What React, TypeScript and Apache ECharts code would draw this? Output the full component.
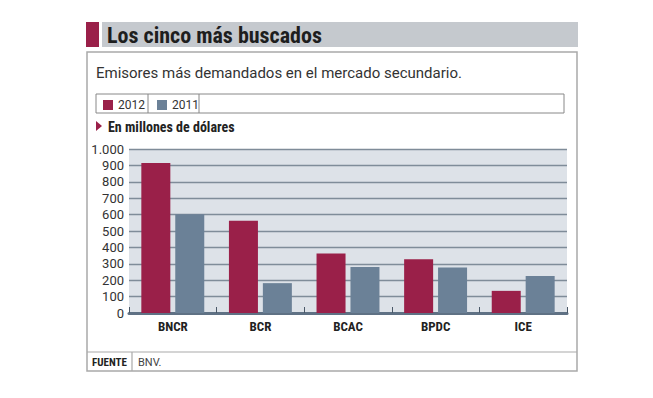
import React, { useEffect, useRef } from "react";
import * as echarts from "echarts";

const categories = ["BNCR", "BCR", "BCAC", "BPDC", "ICE"];
const values2012 = [914, 563, 363, 327, 135];
const values2011 = [602, 182, 280, 278, 226];
const seriesNames = ["2012", "2011"];
const yTicks = [0, 100, 200, 300, 400, 500, 600, 700, 800, 900, 1000];

const RED = "#9a2049";
const BLUE = "#6b8197";
const FONT = "Roboto, 'Noto Sans', sans-serif";
const COND = "'Roboto Condensed', Roboto, sans-serif";

const legendBase = {
  top: 99,
  padding: 0,
  itemWidth: 10,
  itemHeight: 10,
  icon: "rect",
  textStyle: { fontFamily: FONT, fontSize: 12, color: "#333" },
};

export default function App() {
  const ref = useRef<HTMLDivElement>(null);
  useEffect(() => {
    if (!ref.current) return;
    const chart = echarts.init(ref.current, null, { renderer: "svg" });
    chart.setOption({
      animation: false,
      backgroundColor: "#ffffff",
      grid: {
        left: 129,
        right: 86,
        top: 149,
        bottom: 85,
        show: true,
        backgroundColor: "#dde2e8",
        borderWidth: 0,
      },
      legend: [
        { ...legendBase, left: 103, data: [seriesNames[0]] },
        { ...legendBase, left: 157, data: [seriesNames[1]] },
      ],
      xAxis: {
        type: "category",
        data: categories,
        axisLine: { show: true, lineStyle: { color: "#5f7184", width: 3 } },
        axisTick: { show: true, inside: true, length: 6, lineStyle: { color: "#4a5868", width: 1 } },
        axisLabel: {
          fontFamily: COND,
          fontWeight: "bold",
          fontSize: 13,
          color: "#222",
          margin: 7,
        },
      },
      yAxis: {
        type: "value",
        min: yTicks[0],
        max: yTicks[yTicks.length - 1],
        interval: 100,
        axisLine: { show: false },
        axisTick: { show: false },
        splitLine: { show: true, lineStyle: { color: "#7f8c99", width: 1.3 } },
        axisLabel: {
          fontFamily: FONT,
          fontSize: 13,
          color: "#333",
          margin: 5,
          formatter: (v: number) => (v >= 1000 ? v.toLocaleString("de-DE") : String(v)),
        },
      },
      series: [
        {
          name: seriesNames[0],
          type: "bar",
          data: values2012,
          barWidth: 29,
          barGap: "17%",
          itemStyle: { color: RED },
        },
        {
          name: seriesNames[1],
          type: "bar",
          data: values2011,
          barWidth: 29,
          itemStyle: { color: BLUE },
        },
      ],
      graphic: [
        // Title bar
        { type: "rect", shape: { x: 86, y: 22, width: 13, height: 25 }, style: { fill: RED } },
        { type: "rect", shape: { x: 102, y: 22, width: 476, height: 25 }, style: { fill: "#c5c9ce" } },
        {
          type: "text",
          x: 107,
          y: 35,
          style: {
            text: "Los cinco más buscados",
            font: `bold 22px ${COND}`,
            fill: "#1e1e1e",
            textVerticalAlign: "middle",
          },
        },
        // outer box
        {
          type: "rect",
          shape: { x: 87, y: 52, width: 490, height: 319 },
          style: { fill: "none", stroke: "#a9a9a9", lineWidth: 1.5 },
          z: -1,
        },
        {
          type: "text",
          x: 96,
          y: 73,
          style: {
            text: "Emisores más demandados en el mercado secundario.",
            font: `15px ${FONT}`,
            fill: "#333",
            textVerticalAlign: "middle",
          },
        },
        // legend box
        {
          type: "rect",
          shape: { x: 96, y: 94, width: 468, height: 19 },
          style: { fill: "none", stroke: "#888", lineWidth: 1 },
        },
        { type: "line", shape: { x1: 148, y1: 94, x2: 148, y2: 113 }, style: { stroke: "#888", lineWidth: 1 } },
        { type: "line", shape: { x1: 199, y1: 94, x2: 199, y2: 113 }, style: { stroke: "#888", lineWidth: 1 } },
        // unit label
        {
          type: "polygon",
          shape: { points: [[96, 121], [102, 126], [96, 131]] },
          style: { fill: RED },
        },
        {
          type: "text",
          x: 108,
          y: 127,
          style: {
            text: "En millones de dólares",
            font: `bold 14px ${COND}`,
            fill: "#222",
            textVerticalAlign: "middle",
          },
        },
        // footer
        { type: "line", shape: { x1: 87, y1: 352, x2: 577, y2: 352 }, style: { stroke: "#a9a9a9", lineWidth: 1.2 } },
        { type: "line", shape: { x1: 132, y1: 352, x2: 132, y2: 371 }, style: { stroke: "#a9a9a9", lineWidth: 1.2 } },
        {
          type: "text",
          x: 92,
          y: 362,
          style: { text: "FUENTE", font: `bold 11px ${COND}`, fill: "#222", textVerticalAlign: "middle" },
        },
        {
          type: "text",
          x: 138,
          y: 362,
          style: { text: "BNV.", font: `11px ${FONT}`, fill: "#444", textVerticalAlign: "middle" },
        },
      ],
    });
    return () => chart.dispose();
  }, []);
  return <div ref={ref} style={{ position: "absolute", left: 0, top: 0, width: 653, height: 398 }} />;
}
